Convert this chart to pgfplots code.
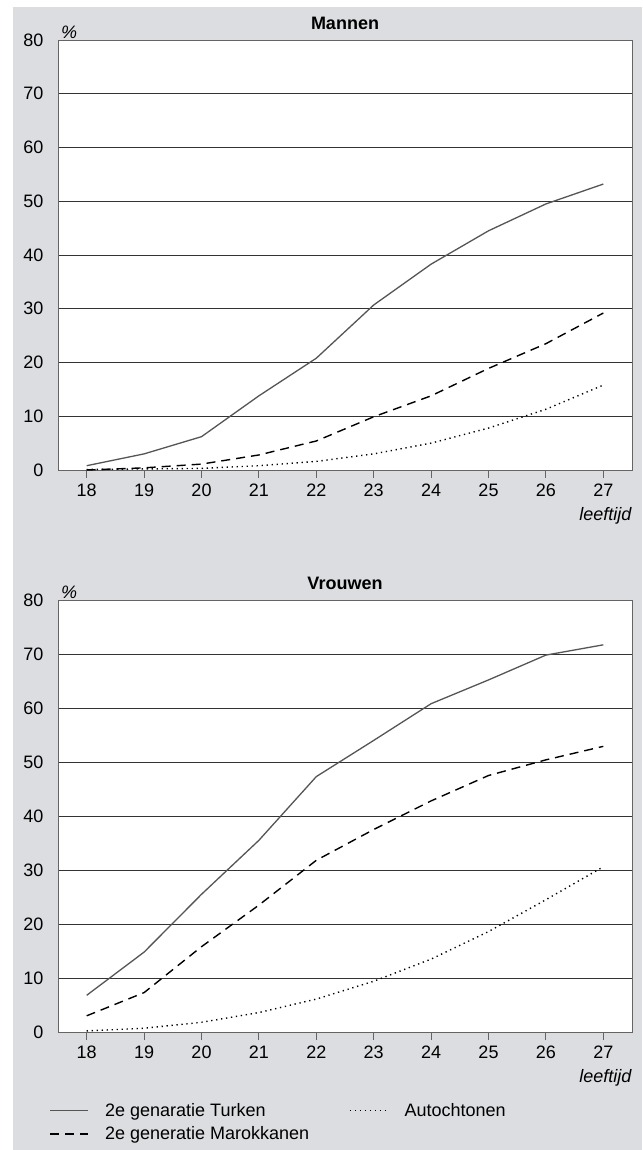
\documentclass[border=0pt]{standalone}
\usepackage{fontspec}
\setmainfont{Liberation Sans}
\usepackage{pgfplots}
\pgfplotsset{compat=1.18}

\definecolor{bggray}{RGB}{220,221,224}
\definecolor{linegray}{RGB}{85,85,85}
\definecolor{axgray}{RGB}{100,100,100}

% leeftijd 18..27
\pgfplotstableread{
x turk maro auto
18 0.8 0.0 0.1
19 3.0 0.4 0.2
20 6.2 1.1 0.3
21 13.8 2.8 0.8
22 20.8 5.4 1.6
23 30.7 9.9 3.0
24 38.3 13.8 5.0
25 44.5 18.9 7.8
26 49.5 23.5 11.3
27 53.2 29.2 15.8
}\mannen
\pgfplotstableread{
x turk maro auto
18 6.8 3.0 0.2
19 14.8 7.3 0.7
20 25.5 15.8 1.8
21 35.5 23.5 3.6
22 47.3 31.8 6.1
23 54.0 37.5 9.4
24 60.8 42.8 13.5
25 65.2 47.5 18.6
26 69.8 50.4 24.5
27 71.7 52.9 30.6
}\vrouwen

\pgfplotsset{
  panel/.style={
    anchor=south west, clip=false,
    scale only axis, width=574pt,
    xmin=17.5, xmax=27.5, ymin=0, ymax=80,
    xtick={18,...,27}, ytick={0,10,...,80},
    ymajorgrids, grid style={black!80, line width=0.9pt},
    axis line style={axgray, line width=1pt},
    axis background/.style={fill=white},
    xtick pos=bottom, tick align=outside,
    xtick style={axgray, line width=1pt},
    major tick length=8pt,
    ytick style={draw=none},
    /pgf/number format/assume math mode=true,
    tick label style={font=\fontsize{18}{21}\selectfont},
    xticklabel style={yshift=-2pt},
    yticklabel style={xshift=-3pt},
    xlabel={\textit{leeftijd}},
    xlabel style={at={(rel axis cs:1,0)}, anchor=north east, yshift=-37pt, inner sep=0pt, font=\fontsize{18}{21}\selectfont},
    title style={at={(rel axis cs:0.5,1)}, anchor=south, yshift=1pt, font=\fontsize{18}{21}\selectfont\bfseries},
  },
  turk/.style={linegray, line width=1.3pt, no marks},
  maro/.style={black, line width=1.4pt, dash pattern=on 9pt off 6pt, no marks},
  auto/.style={black, line width=1.4pt, dash pattern=on 1.3pt off 3.7pt, no marks},
}

\begin{document}
\begin{tikzpicture}[font=\fontsize{18}{21}\selectfont]
\fill[white] (0,0) rectangle (642pt,-1150pt);
\fill[bggray] (13pt,-7pt) rectangle (642pt,-1150pt);

\begin{axis}[panel, at={(58pt,-470pt)}, height=430pt, title={Mannen}]
\addplot[turk] table[x=x,y=turk] {\mannen};
\addplot[maro] table[x=x,y=maro] {\mannen};
\addplot[auto] table[x=x,y=auto] {\mannen};
\node[anchor=south west, inner sep=1pt, xshift=2pt] at (rel axis cs:0,1) {\textit{\%}};
\end{axis}

\begin{axis}[panel, at={(58pt,-1032pt)}, height=432pt, title={Vrouwen},
  legend columns=2,
  legend cell align=left,
  legend style={at={(rel axis cs:-0.02,-0.155)}, anchor=north west, draw=none, fill=none,
    font=\fontsize{18}{21}\selectfont, row sep=5pt,
    nodes={inner sep=2pt},
    /tikz/every even column/.append style={column sep=38pt},
    /tikz/every odd column/.append style={column sep=14pt}},
  legend image code/.code={\draw[#1] (0pt,0pt) -- (38pt,0pt);},
]
\addplot[turk] table[x=x,y=turk] {\vrouwen};
\addlegendentry{2e genaratie Turken}
\addplot[auto] table[x=x,y=auto] {\vrouwen};
\addlegendentry{Autochtonen}
\addplot[maro] table[x=x,y=maro] {\vrouwen};
\addlegendentry{2e generatie Marokkanen}
\node[anchor=south west, inner sep=1pt, xshift=2pt] at (rel axis cs:0,1) {\textit{\%}};
\end{axis}
\end{tikzpicture}
\end{document}
